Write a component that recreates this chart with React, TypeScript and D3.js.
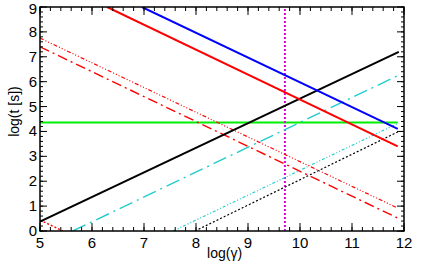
import React from "react";
import * as d3 from "d3";

// axis ticks
const xTicks = [5, 6, 7, 8, 9, 10, 11, 12];
const yTicks = [0, 1, 2, 3, 4, 5, 6, 7, 8, 9];

// each curve: [log(gamma), log(t)] endpoints
const blackSolid = [[5, 0.38], [11.9, 7.2]];
const blueSolid = [[6.96, 9], [11.88, 4.1]];
const redSolid = [[6.29, 9], [11.88, 3.4]];
const redDashDotDot = [[5, 7.75], [11.85, 0.95]];
const redDashDot = [[5, 7.4], [11.88, 0.52]];
const redDotted = [[5, 0.44], [5.44, 0]];
const cyanDashDot = [[5.63, 0], [11.88, 6.24]];
const cyanDotted = [[7.56, 0], [11.88, 4.32]];
const blackDotted = [[7.98, 0], [11.88, 3.98]];
const greenFlat = [[5, 4.36], [11.88, 4.36]];
const magentaVert = [[9.71, 0], [9.71, 9]];

const W = 421;
const H = 264;
const m = { left: 40, right: 17, top: 7, bottom: 33 };

const App: React.FC = () => {
  const x = d3.scaleLinear().domain([5, 12]).range([m.left, W - m.right]);
  const y = d3.scaleLinear().domain([0, 9]).range([H - m.bottom, m.top]);
  const line = d3
    .line<number[]>()
    .x((d) => x(d[0]))
    .y((d) => y(d[1]));

  const series = [
    { d: greenFlat, c: "#00ee00", w: 2, dash: "" },
    { d: magentaVert, c: "#dd00dd", w: 2, dash: "2,2" },
    { d: redDashDotDot, c: "#ff0000", w: 1.2, dash: "4,2,1,2,1,2,1,2" },
    { d: redDashDot, c: "#ff0000", w: 1.4, dash: "10,4,2,4" },
    { d: redDotted, c: "#ff0000", w: 1.4, dash: "2,2" },
    { d: cyanDashDot, c: "#22cccc", w: 1.4, dash: "14,5,2,5" },
    { d: cyanDotted, c: "#22cccc", w: 1.2, dash: "3,2,1,2,1,2" },
    { d: blackDotted, c: "#000000", w: 1.2, dash: "2,2" },
    { d: blackSolid, c: "#000000", w: 2, dash: "" },
    { d: blueSolid, c: "#0000ff", w: 2, dash: "" },
    { d: redSolid, c: "#ff0000", w: 2, dash: "" },
  ];

  const xMinor = d3.range(5, 12.001, 0.2);
  const yMinor = d3.range(0, 9.001, 0.2);
  const x0 = m.left;
  const x1 = W - m.right;
  const y0 = H - m.bottom;
  const y1 = m.top;
  const font = "Helvetica, Arial, 'Liberation Sans', sans-serif";

  return (
    <svg
      width={W}
      height={H}
      style={{ position: "absolute", left: 0, top: 0, background: "#fff" }}
    >
      <defs>
        <clipPath id="plot">
          <rect x={x0} y={y1} width={x1 - x0} height={y0 - y1} />
        </clipPath>
      </defs>
      <g clipPath="url(#plot)">
        {series.map((s, i) => (
          <path
            key={i}
            d={line(s.d) || ""}
            fill="none"
            stroke={s.c}
            strokeWidth={s.w}
            strokeDasharray={s.dash || undefined}
          />
        ))}
      </g>
      {/* minor + major ticks, inward on all four sides */}
      <g stroke="#000" strokeWidth={1}>
        {xMinor.map((v, i) => (
          <g key={"xm" + i}>
            <line x1={x(v)} x2={x(v)} y1={y0} y2={y0 - 4} />
            <line x1={x(v)} x2={x(v)} y1={y1} y2={y1 + 4} />
          </g>
        ))}
        {yMinor.map((v, i) => (
          <g key={"ym" + i}>
            <line x1={x0} x2={x0 + 3} y1={y(v)} y2={y(v)} />
            <line x1={x1} x2={x1 - 3} y1={y(v)} y2={y(v)} />
          </g>
        ))}
        {xTicks.map((v) => (
          <g key={"xt" + v}>
            <line x1={x(v)} x2={x(v)} y1={y0} y2={y0 - 8} />
            <line x1={x(v)} x2={x(v)} y1={y1} y2={y1 + 8} />
          </g>
        ))}
        {yTicks.map((v) => (
          <g key={"yt" + v}>
            <line x1={x0} x2={x0 + 7} y1={y(v)} y2={y(v)} />
            <line x1={x1} x2={x1 - 7} y1={y(v)} y2={y(v)} />
          </g>
        ))}
      </g>
      <rect
        x={x0}
        y={y1}
        width={x1 - x0}
        height={y0 - y1}
        fill="none"
        stroke="#000"
        strokeWidth={1.5}
      />
      <g fontFamily={font} fontSize={15} fill="#000">
        {xTicks.map((v) => (
          <text key={"xl" + v} x={x(v)} y={y0 + 17} textAnchor="middle">
            {v}
          </text>
        ))}
        {yTicks.map((v) => (
          <text
            key={"yl" + v}
            x={x0 - 3}
            y={Math.max(y(v) + 5, 14)}
            textAnchor="end"
          >
            {v}
          </text>
        ))}
      </g>
      <text
        x={x(8.55)}
        y={258}
        textAnchor="middle"
        fontFamily={font}
        fontSize={14}
      >
        log(γ)
      </text>
      <text
        transform={`translate(19,${y(4.8)}) rotate(-90)`}
        textAnchor="middle"
        fontFamily={font}
        fontSize={14}
      >
        log(t [s])
      </text>
    </svg>
  );
};

export default App;
